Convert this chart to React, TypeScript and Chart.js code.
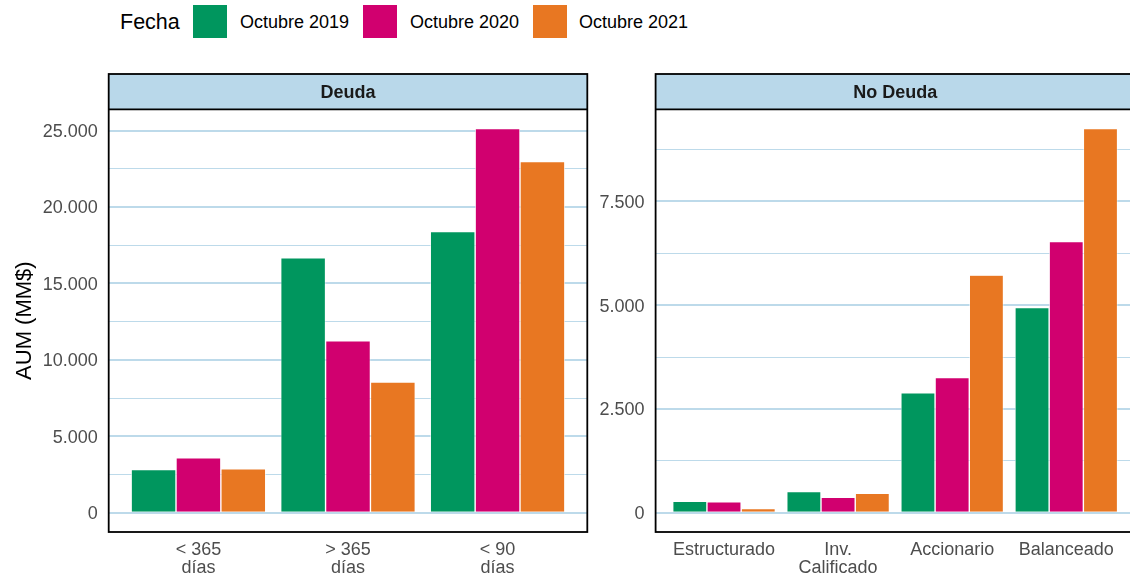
import React, { useEffect, useRef } from 'react';
import { Chart, registerables } from 'chart.js';

Chart.register(...registerables);

// ---------- data ----------
const seriesNames = ['Octubre 2019', 'Octubre 2020', 'Octubre 2021'];
const seriesColors = ['#00965E', '#D1006F', '#E87722'];

const deudaLabels = [['< 365', 'días'], ['> 365', 'días'], ['< 90', 'días']];
const deuda2019 = [2830, 16670, 18390];
const deuda2020 = [3600, 11250, 25130];
const deuda2021 = [2880, 8550, 22970];
const deudaMajorTicks = [0, 5000, 10000, 15000, 20000, 25000];
const deudaMinorTicks = [2500, 7500, 12500, 17500, 22500];

const noDeudaLabels = ['Estructurado', ['Inv.', 'Calificado'], 'Accionario', 'Balanceado'];
const noDeuda2019 = [279, 513, 2891, 4946];
const noDeuda2020 = [265, 376, 3260, 6536];
const noDeuda2021 = [104, 470, 5724, 9256];
const noDeudaMajorTicks = [0, 2500, 5000, 7500];
const noDeudaMinorTicks = [1250, 3750, 6250, 8750];

// ---------- style ----------
const FONT = "'Liberation Sans', Arial, Helvetica, sans-serif";
const STRIP_TOP = 74;
const PANEL_TOP = 109.3;
const X_AXIS_H = 49;
const GRID_COLOR = '#BDDAEA';
const STRIP_FILL = '#B9D8EA';

const fmt = (v: number) => String(v).replace(/\B(?=(\d{3})+(?!\d))/g, '.');

const panelDecor = {
  id: 'panelDecor',
  afterDraw(chart: any, _args: any, opts: any) {
    const { ctx, chartArea } = chart;
    const { left, right, top, bottom } = chartArea;
    ctx.save();
    ctx.fillStyle = STRIP_FILL;
    ctx.fillRect(left, STRIP_TOP, right - left, top - STRIP_TOP);
    ctx.fillStyle = '#1A1A1A';
    ctx.font = `bold 18px ${FONT}`;
    ctx.textAlign = 'center';
    ctx.textBaseline = 'middle';
    ctx.fillText(opts.title, (left + right) / 2, (STRIP_TOP + top) / 2 + 1);
    ctx.strokeStyle = '#000';
    ctx.lineWidth = 1.8;
    ctx.strokeRect(left, STRIP_TOP, right - left, bottom - STRIP_TOP);
    ctx.beginPath();
    ctx.moveTo(left, top);
    ctx.lineTo(right, top);
    ctx.stroke();
    ctx.restore();
  },
};

function makeConfig(p: {
  labels: any[];
  series: number[][];
  major: number[];
  minor: number[];
  title: string;
  yWidth: number;
  padRight: number;
  yTitle?: string;
}) {
  const maxV = Math.max(...p.series.flat());
  const allTicks = [...p.major, ...p.minor].sort((a, b) => a - b);
  return {
    type: 'bar',
    data: {
      datasets: p.series.map((vals, si) => ({
        label: seriesNames[si],
        data: vals.map((v, i) => ({ x: i + 1, y: v })),
        backgroundColor: seriesColors[si],
        borderColor: '#FFFFFF',
        borderWidth: 0.7,
        categoryPercentage: 0.9,
        barPercentage: 1.0,
      })),
    },
    options: {
      responsive: false,
      maintainAspectRatio: false,
      animation: false,
      devicePixelRatio: 1,
      events: [],
      layout: { padding: { top: PANEL_TOP, left: 0, right: p.padRight, bottom: 0 } },
      plugins: {
        legend: { display: false },
        tooltip: { enabled: false },
        panelDecor: { title: p.title },
      },
      scales: {
        x: {
          type: 'linear',
          offset: false,
          min: 0.4,
          max: p.labels.length + 0.6,
          grid: { display: false, drawTicks: false },
          border: { display: false },
          afterBuildTicks: (s: any) => {
            s.ticks = p.labels.map((_, i) => ({ value: i + 1 }));
          },
          afterFit: (s: any) => {
            s.height = X_AXIS_H;
          },
          ticks: {
            autoSkip: false,
            maxRotation: 0,
            minRotation: 0,
            padding: 9,
            color: '#4D4D4D',
            font: { family: FONT, size: 18, lineHeight: 1 },
            callback: (v: number) => p.labels[Math.round(v) - 1] ?? '',
          },
        },
        y: {
          type: 'linear',
          min: -0.05 * maxV,
          max: 1.05 * maxV,
          afterBuildTicks: (s: any) => {
            s.ticks = allTicks.map((v) => ({ value: v }));
          },
          afterFit: (s: any) => {
            s.width = p.yWidth;
          },
          grid: {
            drawTicks: false,
            color: GRID_COLOR,
            lineWidth: (c: any) => (c.tick && p.major.includes(c.tick.value) ? 2 : 1),
          },
          border: { display: false },
          ticks: {
            autoSkip: false,
            padding: 11,
            labelOffset: 1.5,
            color: '#4D4D4D',
            font: { family: FONT, size: 18 },
            callback: (v: number) => (p.major.includes(v) ? fmt(v) : ''),
          },
          title: {
            display: !!p.yTitle,
            text: p.yTitle || '',
            color: '#000',
            font: { family: FONT, size: 22, lineHeight: 1.2 },
            padding: { top: 11.8, bottom: 0 },
          },
        },
      },
    },
    plugins: [panelDecor],
  } as any;
}

function Panel(props: { left: number; width: number; config: any }) {
  const ref = useRef<HTMLCanvasElement | null>(null);
  useEffect(() => {
    if (!ref.current) return;
    const chart = new Chart(ref.current, props.config);
    return () => chart.destroy();
  }, []);
  return (
    <canvas
      ref={ref}
      width={props.width}
      height={581}
      style={{ position: 'absolute', left: props.left, top: 0, width: props.width, height: 581 }}
    />
  );
}

const legendSwatchX = [193, 363, 533];
const legendTextX = [240, 410, 579];

export default function App() {
  const leftConfig = makeConfig({
    labels: deudaLabels,
    series: [deuda2019, deuda2020, deuda2021],
    major: deudaMajorTicks,
    minor: deudaMinorTicks,
    title: 'Deuda',
    yWidth: 108.7,
    padRight: 592 - 587.3,
    yTitle: 'AUM (MM$)',
  });
  const rightConfig = makeConfig({
    labels: noDeudaLabels,
    series: [noDeuda2019, noDeuda2020, noDeuda2021],
    major: noDeudaMajorTicks,
    minor: noDeudaMinorTicks,
    title: 'No Deuda',
    yWidth: 655.6 - 592,
    padRight: 1140 - 1134.7,
  });
  return (
    <div
      style={{
        position: 'fixed',
        left: 0,
        top: 0,
        width: 1130,
        height: 581,
        overflow: 'hidden',
        background: '#fff',
        fontFamily: FONT,
      }}
    >
      <div
        style={{
          position: 'absolute',
          left: 120,
          top: 0,
          height: 44,
          display: 'flex',
          alignItems: 'center',
          fontSize: 21.5,
          color: '#000',
        }}
      >
        Fecha
      </div>
      {seriesNames.map((name, i) => (
        <React.Fragment key={name}>
          <div
            style={{
              position: 'absolute',
              left: legendSwatchX[i],
              top: 5,
              width: 34,
              height: 33,
              background: seriesColors[i],
            }}
          />
          <div
            style={{
              position: 'absolute',
              left: legendTextX[i],
              top: 0,
              height: 44,
              display: 'flex',
              alignItems: 'center',
              fontSize: 18,
              color: '#000',
              whiteSpace: 'nowrap',
            }}
          >
            {name}
          </div>
        </React.Fragment>
      ))}
      <Panel left={0} width={592} config={leftConfig} />
      <Panel left={592} width={548} config={rightConfig} />
    </div>
  );
}
